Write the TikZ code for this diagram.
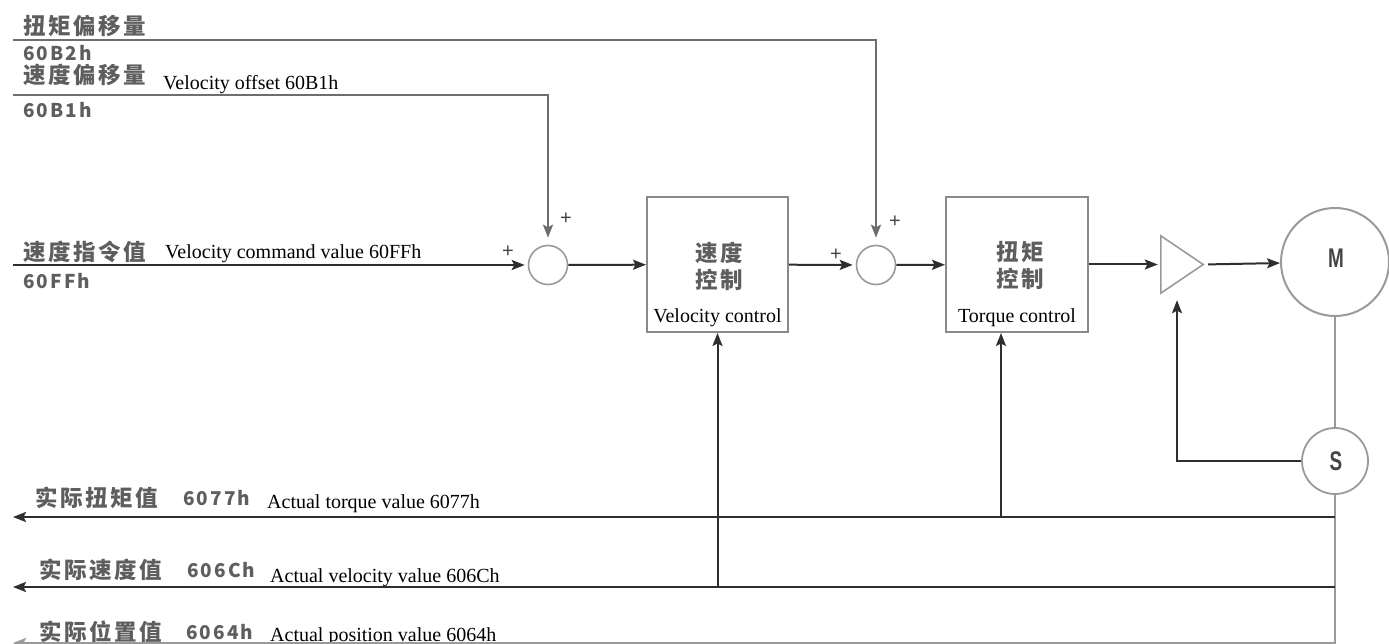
\documentclass[tikz,border=0pt]{standalone}
\usepackage{fontspec}
\setmainfont{Liberation Serif}
\setsansfont{Liberation Sans}
\newfontfamily\cjk[LetterSpace=11]{Noto Sans CJK SC}
\newfontfamily\cjknum[LetterSpace=11]{Noto Sans CJK SC}
\usetikzlibrary{arrows.meta}

\definecolor{lbl}{HTML}{5E5E5E}
\definecolor{sigc}{HTML}{2E2E2E}
\definecolor{offc}{HTML}{6E6E6E}
\definecolor{framec}{HTML}{8A8A8A}
\definecolor{ringc}{HTML}{9A9A9A}
\definecolor{plusc}{HTML}{444444}

\tikzset{
  zh/.style={font=\cjk\bfseries\fontsize{22.5}{27}\selectfont, text=lbl, inner sep=0pt, anchor=west},
  zhc/.style={font=\cjk\bfseries\fontsize{22.5}{27}\selectfont, text=lbl, inner sep=0pt, align=center},
  hexlbl/.style={font=\cjknum\bfseries\fontsize{19}{20}\selectfont, text=lbl, inner sep=0pt, anchor=west},
  en/.style={font=\fontsize{20}{22}\selectfont, text=black, inner sep=0pt, anchor=base west},
  enc/.style={font=\fontsize{20}{22}\selectfont, text=black, inner sep=0pt, anchor=base},
  plussign/.style={font=\sffamily\fontsize{20}{20}\selectfont, text=plusc, inner sep=0pt},
  tip/.style={-{Stealth[length=13pt,width=10pt,inset=2.5pt]}},
  sig/.style={draw=sigc, line width=2pt, tip},
  offl/.style={draw=offc, line width=2pt, tip},
  busl/.style={draw=sigc, line width=2.4pt, tip},
  ringl/.style={draw=ringc, line width=2pt},
  sumc/.style={circle, draw=ringc, line width=1.6pt, minimum size=39pt, inner sep=0pt},
  blk/.style={draw=framec, line width=2pt, minimum height=135pt, inner sep=0pt},
  letter/.style={font=\sffamily\bfseries\fontsize{27}{27}\selectfont, text=plusc, inner sep=0pt},
}

\begin{document}
\begin{tikzpicture}[x=1pt, y=-1pt]
\useasboundingbox (0,0) rectangle (1389,644);

% ---- blocks of the velocity loop ----
\node[sumc] (sum1) at (548,265) {};
\node[sumc] (sum2) at (876,265) {};
\node[blk, minimum width=141pt] (velbox) at (717.5,264.5) {};
\node[blk, minimum width=142pt] (tqbox) at (1017,264.5) {};
\node[minimum width=42pt, minimum height=57pt, inner sep=0pt] (amp) at (1182,264.5) {};
\draw[draw=ringc, line width=1.6pt, line join=miter] (amp.north west) -- (amp.east) -- (amp.south west) -- cycle;
\node[circle, draw=ringc, line width=2pt, minimum size=108pt, inner sep=0pt] (motor) at (1335,262) {};
\node[circle, draw=ringc, line width=1.8pt, minimum size=66pt, inner sep=0pt] (sens) at (1335,461) {};

% ---- texts in the blocks ----
\node[zhc] (velzh) at (719,266.5) {速度\\控制};
\node[enc] (velen) at (717.5,322) {Velocity control};
\node[zhc] (tqzh) at (1020,265) {扭矩\\控制};
\node[enc] (tqen) at (1017,322) {Torque control};
\node[letter] (mlet) at (1336,258) {\scalebox{0.7}[1]{M}};
\node[letter] (slet) at (1336,461) {\scalebox{0.7}[1]{S}};

% ---- signs at the summing points ----
\node[plussign] (p1l) at (508,252) {+};
\node[plussign] (p1t) at (566,219) {+};
\node[plussign] (p2l) at (836,255) {+};
\node[plussign] (p2t) at (895,222) {+};

% ---- input labels ----
\node[zh] (toffzh) at (23,26) {扭矩偏移量};
\node[hexlbl] (toffhex) at (23,53) {60B2h};
\node[zh] (voffzh) at (23,75) {速度偏移量};
\node[en] (voffen) at (163,90) {Velocity offset 60B1h};
\node[hexlbl] (voffhex) at (23,110) {60B1h};
\node[zh] (cmdzh) at (23,252) {速度指令值};
\node[en] (cmden) at (165,259) {Velocity command value 60FFh};
\node[hexlbl] (cmdhex) at (23,281) {60FFh};

% ---- output labels ----
\node[zh] (atqzh) at (35,498) {实际扭矩值};
\node[hexlbl] (atqhex) at (183,498) {6077h};
\node[en] (atqen) at (267,508) {Actual torque value 6077h};
\node[zh] (avelzh) at (39,570) {实际速度值};
\node[hexlbl] (avelhex) at (187,570) {606Ch};
\node[en] (avelen) at (270,582) {Actual velocity value 606Ch};
\node[zh] (aposzh) at (39,632) {实际位置值};
\node[hexlbl] (aposhex) at (186,632) {6064h};
\node[en] (aposen) at (270,641) {Actual position value 6064h};

% ---- free ends of the signal lines ----
\coordinate (toff) at (13,40);
\coordinate (voff) at (13,95);
\coordinate (cmdin) at (13,265);
\coordinate (tqR) at (1335,517);
\coordinate (tqL) at (13,517);
\coordinate (velR) at (1335,587);
\coordinate (velL) at (13,587);
\coordinate (posR) at (1335,643);
\coordinate (posL) at (13,643);
\coordinate (tqtap) at (1001,517);
\coordinate (shaftend) at (1335,644);

% ---- offsets ----
\draw[offl, shorten >=7pt] (toff) -| (sum2.north);
\draw[offl, shorten >=7pt] (voff) -| (sum1.north);

% ---- forward path ----
\draw[sig, shorten >=3pt] (cmdin) -- (sum1);
\draw[sig] (sum1) -- (velbox);
\draw[sig, shorten >=3pt] (velbox) -- (sum2);
\draw[sig] (sum2) -- (tqbox);
\draw[sig, shorten >=3pt] (tqbox) -- (amp.west);
\draw[sig, shorten <=5pt] (amp.east) -- (motor);

% ---- motor shaft and sensor ----
\draw[ringl] (motor) -- (sens);
\draw[ringl] (sens) -- (shaftend);
\draw[sig, line width=1.8pt, shorten >=7pt] (sens.west) -| ([xshift=-5pt]amp.south);

% ---- actual values ----
\draw[busl] (tqR) -- (tqL);
\draw[busl] (velR) -- (velL);
\draw[busl, draw=ringc] (posR) -- (posL);
\draw[sig] (velbox.south |- velR) -- (velbox.south);
\draw[sig] (tqtap) -- (tqtap |- tqbox.south);
\end{tikzpicture}
\end{document}
